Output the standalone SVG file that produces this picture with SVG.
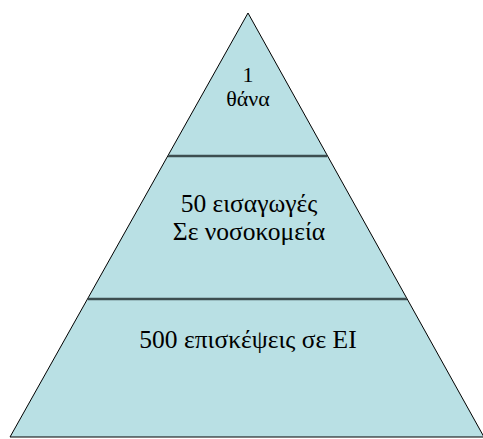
<svg xmlns="http://www.w3.org/2000/svg" width="483" height="439" viewBox="0 0 483 439">
<style>
.tier{fill:#b9e0e4;stroke:#000;stroke-width:1}
.div{stroke:#3d4e50;stroke-width:2.5}
</style>
<rect width="483" height="439" fill="#fff"/>
<g id="pyramid">
<polygon class="tier" points="248,13 10,437 484,437"/>
</g>
<g id="connectors">
<line class="div" x1="168" y1="156" x2="327" y2="156"/>
<line class="div" x1="88" y1="299" x2="407" y2="299"/>
</g>
<g font-family="Liberation Serif" fill="#000" text-anchor="middle">
<g id="top" font-size="22">
<text x="248" y="82">1</text>
<text x="248" y="106">θάνα</text>
</g>
<g id="middle" font-size="25.5">
<text x="249" y="212">50 εισαγωγές</text>
<text x="249" y="240">Σε νοσοκομεία</text>
</g>
<g id="bottom" font-size="25.5">
<text x="248" y="348">500 επισκέψεις σε ΕΙ</text>
</g>
</g>
</svg>
